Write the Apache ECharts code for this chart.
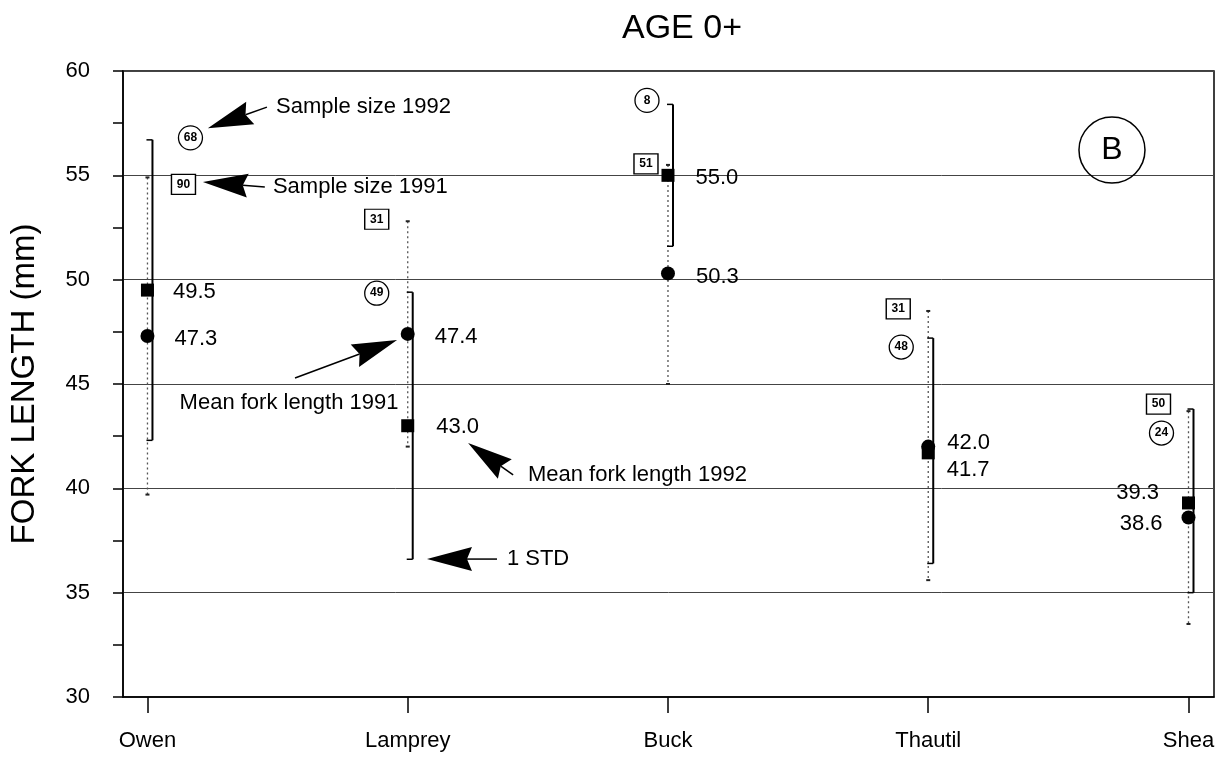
<!DOCTYPE html>
<html lang="en">
<head>
    <meta charset="utf-8">
    <title>AGE 0+ fork length</title>
    <script src="https://cdn.jsdelivr.net/npm/echarts@6.0.0/dist/echarts.min.js"></script>
    <style>
        html, body { margin: 0; padding: 0; background: #fff; }
        #main { width: 1232px; height: 757px; }
    </style>
</head>
<body>
<div id="main"></div>
<script type="text/javascript">
    // sites along the x axis
    var sites = ['Owen', 'Lamprey', 'Buck', 'Thautil', 'Shea'];

    // 1991: circle mean, dotted bar, boxed sample size
    var mean1991 = [47.3, 47.4, 50.3, 42.0, 38.6];
    var low1991 = [39.7, 42.0, 45.0, 35.6, 33.5];
    var high1991 = [54.9, 52.8, 55.5, 48.5, 43.7];
    var n1991 = [90, 31, 51, 31, 50];

    // 1992: square mean, solid bar, circled sample size
    var mean1992 = [49.5, 43.0, 55.0, 41.7, 39.3];
    var low1992 = [42.3, 36.6, 51.6, 36.4, 35.0];
    var high1992 = [56.7, 49.4, 58.4, 47.2, 43.8];
    var n1992 = [68, 49, 8, 48, 24];

    var yTicks = [30, 35, 40, 45, 50, 55, 60];

    var FONT = "'Liberation Sans', Arial, Helvetica, sans-serif";

    // label tweaks so the numbers do not overlap (pixels)
    var meanLabel1991 = [
        {position: 'right', distance: 20, offset: [0, 3]},
        {position: 'right', distance: 20, offset: [0, 3]},
        {position: 'right', distance: 21, offset: [0, 4]},
        {position: 'right', distance: 12, offset: [0, -4]},
        {position: 'left', distance: 19, offset: [0, 6]}
    ];
    var meanLabel1992 = [
        {position: 'right', distance: 19, offset: [0, 2]},
        {position: 'right', distance: 22, offset: [0, 1]},
        {position: 'right', distance: 21, offset: [0, 3]},
        {position: 'right', distance: 12, offset: [0, 17]},
        {position: 'left', distance: 23, offset: [0, -10]}
    ];
    var nShift1991 = [[36, 7], [-31, -2], [-22, -1], [-30, -2], [-30, -7]];
    var nShift1992 = [[43, -2], [-31, 1], [-21, -4], [-27, 9], [-27, 24]];

    // arrows + notes, in data units
    var notes = [
        {text: 'Sample size 1992', tip: [0.232, 57.26], tail: [0.459, 58.27], at: [0.494, 58.27], align: 'left'},
        {text: 'Sample size 1991', tip: [0.213, 54.68], tail: [0.451, 54.44], at: [0.482, 54.44], align: 'left'},
        {text: 'Mean fork length 1991', tip: [0.959, 47.11], tail: [0.567, 45.29], at: [0.544, 44.09], align: 'center'},
        {text: 'Mean fork length 1992', tip: [1.232, 42.17], tail: [1.405, 40.64], at: [1.462, 40.64], align: 'left'},
        {text: '1 STD', tip: [1.074, 36.61], tail: [1.343, 36.61], at: [1.381, 36.61], align: 'left'}
    ];

    var myChart = echarts.init(document.getElementById('main'));

    function barData(lo, hi) {
        return sites.map(function (s, i) { return [i, lo[i], hi[i]]; });
    }

    function dottedBar(params, api) {
        var top = api.coord([api.value(0), api.value(2)]);
        var bot = api.coord([api.value(0), api.value(1)]);
        var x = top[0];
        return {
            type: 'group',
            children: [
                {type: 'line', shape: {x1: x, y1: top[1], x2: x, y2: bot[1]},
                    style: {stroke: '#555', lineWidth: 1.3, lineDash: [2, 3]}},
                {type: 'rect', shape: {x: x - 2, y: top[1] - 1, width: 4, height: 2}, style: {fill: '#222'}},
                {type: 'rect', shape: {x: x - 2, y: bot[1] - 1, width: 4, height: 2}, style: {fill: '#222'}}
            ]
        };
    }

    function solidBar(params, api) {
        var top = api.coord([api.value(0), api.value(2)]);
        var bot = api.coord([api.value(0), api.value(1)]);
        var x = top[0] + 5;
        var st = {stroke: '#000', lineWidth: 2};
        return {
            type: 'group',
            children: [
                {type: 'line', shape: {x1: x, y1: top[1], x2: x, y2: bot[1]}, style: st},
                {type: 'line', shape: {x1: x - 6, y1: top[1], x2: x, y2: top[1]}, style: {stroke: '#000', lineWidth: 1.5}},
                {type: 'line', shape: {x1: x - 6, y1: bot[1], x2: x, y2: bot[1]}, style: {stroke: '#000', lineWidth: 1.5}}
            ]
        };
    }

    function meanData(vals, tweaks) {
        return vals.map(function (v, i) {
            return {value: [i, v], label: tweaks[i]};
        });
    }

    function nData(vals, tops, shifts) {
        return vals.map(function (v, i) {
            return {value: [i, tops[i], v], symbolOffset: shifts[i]};
        });
    }

    var valueLabel = {
        show: true,
        fontFamily: FONT,
        fontSize: 22,
        color: '#000',
        formatter: function (p) { return p.value[1].toFixed(1); }
    };

    var nLabel = {
        show: true,
        position: 'inside',
        fontFamily: FONT,
        fontSize: 12,
        fontWeight: 'bold',
        color: '#000',
        formatter: function (p) { return p.value[2]; }
    };

    var option = {
        animation: false,
        backgroundColor: '#fff',
        title: {
            text: 'AGE 0+',
            left: 617,
            top: 7,
            textStyle: {fontFamily: FONT, fontSize: 34, fontWeight: 'normal', color: '#000'}
        },
        grid: {
            left: 123, right: 18, top: 71, bottom: 60,
            show: true, borderColor: '#000', borderWidth: 1.5
        },
        xAxis: {
            type: 'value',
            min: -0.094,
            max: 4.098,
            splitLine: {show: false},
            axisLine: {show: true, onZero: false, lineStyle: {color: '#000', width: 1.5}},
            axisTick: {show: true, customValues: [0, 1, 2, 3, 4], length: 16, lineStyle: {color: '#000', width: 1.5}},
            axisLabel: {
                customValues: [0, 1, 2, 3, 4],
                margin: 33,
                fontFamily: FONT, fontSize: 22, color: '#000',
                formatter: function (v) { return sites[Math.round(v)]; }
            }
        },
        yAxis: {
            type: 'value',
            min: yTicks[0],
            max: yTicks[yTicks.length - 1],
            interval: 5,
            name: 'FORK LENGTH (mm)',
            nameLocation: 'middle',
            nameRotate: 90,
            nameGap: 82,
            nameTextStyle: {fontFamily: FONT, fontSize: 33, color: '#000'},
            axisLine: {show: true, onZero: false, lineStyle: {color: '#000', width: 1.5}},
            axisTick: {show: true, length: 10, lineStyle: {color: '#000', width: 1.5}},
            minorTick: {show: true, splitNumber: 2, length: 10, lineStyle: {color: '#000', width: 1.5}},
            splitLine: {show: true, lineStyle: {color: '#444', width: 1}},
            axisLabel: {margin: 33, fontFamily: FONT, fontSize: 22, color: '#000'}
        },
        series: [
            {
                name: 'SD 1991', type: 'custom', renderItem: dottedBar,
                encode: {x: 0, y: [1, 2]}, data: barData(low1991, high1991), z: 3
            },
            {
                name: 'SD 1992', type: 'custom', renderItem: solidBar,
                encode: {x: 0, y: [1, 2]}, data: barData(low1992, high1992), z: 3
            },
            {
                name: 'Mean 1991', type: 'scatter', symbol: 'circle', symbolSize: 14,
                itemStyle: {color: '#000', opacity: 1}, label: valueLabel,
                data: meanData(mean1991, meanLabel1991), z: 5
            },
            {
                name: 'Mean 1992', type: 'scatter', symbol: 'rect', symbolSize: 13,
                itemStyle: {color: '#000', opacity: 1}, label: valueLabel,
                data: meanData(mean1992, meanLabel1992), z: 5
            },
            {
                name: 'n 1991', type: 'scatter', symbol: 'rect', symbolSize: [24, 20],
                itemStyle: {color: '#fff', borderColor: '#000', borderWidth: 1.3, opacity: 1},
                label: nLabel, data: nData(n1991, high1991, nShift1991), z: 6
            },
            {
                name: 'n 1992', type: 'scatter', symbol: 'circle', symbolSize: 24,
                itemStyle: {color: '#fff', borderColor: '#000', borderWidth: 1.3, opacity: 1},
                label: nLabel, data: nData(n1992, high1992, nShift1992), z: 6
            }
        ]
    };
    myChart.setOption(option);

    // arrows and notes placed from data coordinates
    function px(p) { return myChart.convertToPixel({gridIndex: 0}, p); }

    var graphics = [];
    notes.forEach(function (n) {
        var t = px(n.tip), e = px(n.tail), a = px(n.at);
        var dx = e[0] - t[0], dy = e[1] - t[1];
        var len = Math.sqrt(dx * dx + dy * dy);
        var ux = dx / len, uy = dy / len;
        var hl = 45, hw = 12;
        var bx = t[0] + ux * hl, by = t[1] + uy * hl;
        graphics.push({
            type: 'polygon', z: 10,
            shape: {points: [[t[0], t[1]], [bx - uy * hw, by + ux * hw], [bx - ux * 5, by - uy * 5], [bx + uy * hw, by - ux * hw]]},
            style: {fill: '#000'}
        });
        graphics.push({
            type: 'line', z: 10,
            shape: {x1: bx - ux * 5, y1: by - uy * 5, x2: e[0], y2: e[1]},
            style: {stroke: '#000', lineWidth: 1.5}
        });
        graphics.push({
            type: 'text', z: 10, x: a[0], y: a[1],
            style: {text: n.text, font: '22px ' + FONT, fill: '#000', textAlign: n.align, textVerticalAlign: 'middle'}
        });
    });

    // panel letter
    var bc = px([3.706, 56.21]);
    graphics.push({type: 'circle', z: 10, shape: {cx: bc[0], cy: bc[1], r: 33},
        style: {fill: 'none', stroke: '#000', lineWidth: 1.5}});
    graphics.push({type: 'text', z: 10, x: bc[0], y: bc[1],
        style: {text: 'B', font: '32px ' + FONT, fill: '#000', textAlign: 'center', textVerticalAlign: 'middle'}});

    myChart.setOption({graphic: graphics});
</script>
</body>
</html>
